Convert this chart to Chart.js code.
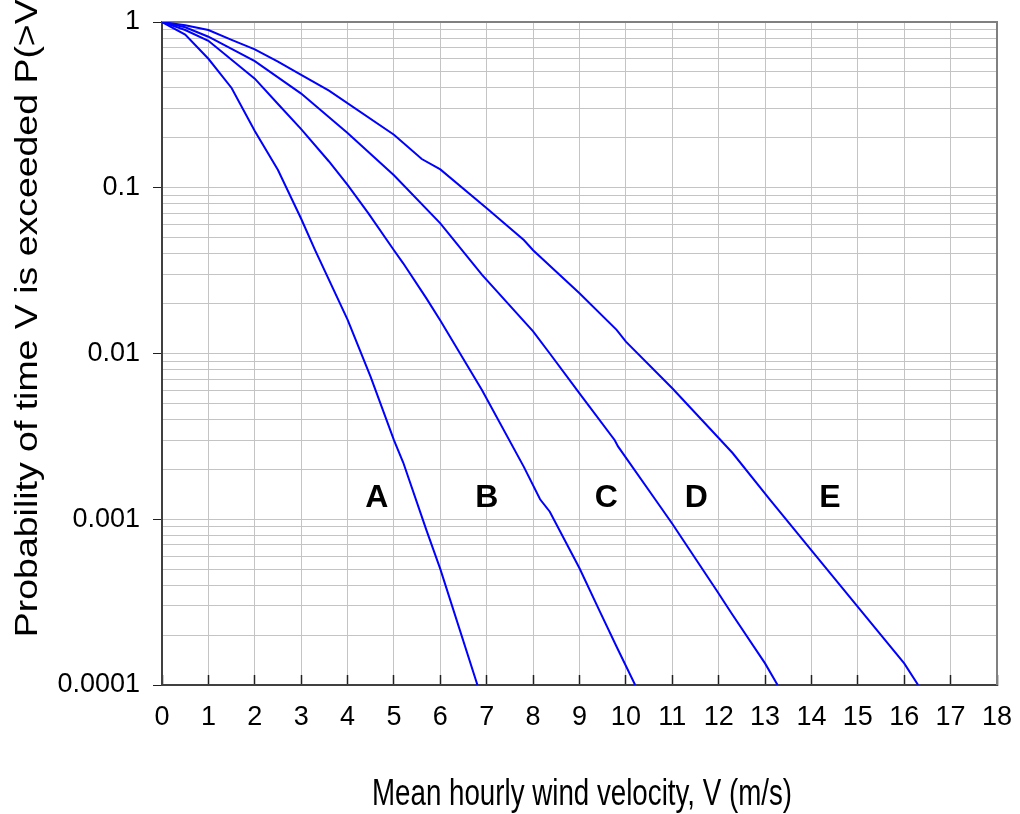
<!DOCTYPE html>
<html>
<head>
<meta charset="utf-8">
<script src="https://cdn.jsdelivr.net/npm/chart.js@4/dist/chart.umd.min.js"></script>
<style>
  body { margin: 0; background: #fff; }
  canvas { display: block; }
</style>
</head>
<body>
<canvas id="windChart" width="1020" height="814"></canvas>
<script>
//// values (V in m/s, P = probability V is exceeded)

let speedA = [0, 0.5, 1, 1.5, 2, 2.5, 3, 3.3, 4, 4.5, 5, 5.2, 5.7, 6, 6.8];
let probA = [1, 0.84, 0.6, 0.4, 0.22, 0.128, 0.065, 0.042, 0.016, 0.0072, 0.003, 0.0022, 0.00086, 0.0005, 0.0001];

let speedB = [0, 0.5, 1, 2, 2.5, 3, 3.6, 4, 4.45, 5, 5.2, 5.7, 6, 6.9, 7.8, 8.15, 8.36, 9, 9.44, 9.8, 10.2];
let probB = [1, 0.895, 0.77, 0.455, 0.32, 0.226, 0.144, 0.104, 0.07, 0.042, 0.035, 0.0215, 0.0158, 0.006, 0.00207, 0.00132, 0.00111, 0.000506, 0.000277, 0.00017, 0.0001];

let speedC = [0, 0.5, 1, 2, 3, 4, 5, 6, 6.9, 8, 8.36, 9, 9.76, 9.83, 10.63, 11, 11.95, 12.28, 13, 13.27];
let probC = [1, 0.93, 0.815, 0.58, 0.37, 0.214, 0.119, 0.061, 0.0298, 0.0136, 0.01, 0.00575, 0.003, 0.00275, 0.00132, 0.00094, 0.000374, 0.00027, 0.000135, 0.0001];

let speedD = [0, 0.5, 1, 1.5, 2, 2.5, 3, 3.6, 5, 5.6, 6, 7, 7.8, 8, 9, 9.8, 10, 11, 12, 12.3, 13.1, 14, 15, 16, 16.3];
let probD = [1, 0.955, 0.895, 0.78, 0.684, 0.577, 0.479, 0.385, 0.209, 0.149, 0.129, 0.0752, 0.0484, 0.042, 0.0231, 0.0139, 0.0118, 0.00617, 0.00309, 0.00251, 0.00132, 0.00065, 0.000296, 0.000135, 0.0001];

let regionLetters = ['A', 'B', 'C', 'D', 'E'];
let letterSpeed = [4.63, 7.0, 9.58, 11.52, 14.4];
let letterProb = [0.00134, 0.00134, 0.00134, 0.00134, 0.00134];

let yTickValues = [0.0001, 0.001, 0.01, 0.1, 1];
let yTickLabels = ['0.0001', '0.001', '0.01', '0.1', '1'];

let xTitle = 'Mean hourly wind velocity, V (m/s)';
let yTitle = 'Probability of time V is exceeded P(>V)';

/// helpers

function toPoints(xs, ys) {
    return xs.map((v, i) => ({ x: v, y: ys[i] }));
}

function decadeIndex(v) {
    for (let i = 0; i < yTickValues.length; i++) {
        if (Math.abs(v - yTickValues[i]) / yTickValues[i] < 1e-6) {
            return i;
        }
    }
    return -1;
}

// grid at 1..9 of every decade
let yGridValues = [];
for (let i = 0; i < yTickValues.length - 1; i++) {
    for (let m = 1; m < 10; m++) {
        yGridValues.push(parseFloat((yTickValues[i] * m).toPrecision(6)));
    }
}
yGridValues.push(yTickValues[yTickValues.length - 1]);

function makeCurve(xs, ys) {
    return {
        data: toPoints(xs, ys),
        borderColor: '#0000ff',
        borderWidth: 2,
        pointRadius: 0,
        tension: 0,
        fill: false
    };
}

//// extra drawing: frame, letters, stretched axis titles

let extrasPlugin = {
    id: 'extras',
    beforeDatasetsDraw(chart) {
        let a = chart.chartArea;
        let ctx = chart.ctx;
        ctx.save();
        ctx.strokeStyle = '#808080';
        ctx.lineWidth = 2;
        ctx.beginPath();
        ctx.moveTo(a.left, a.top);
        ctx.lineTo(a.right, a.top);
        ctx.lineTo(a.right, a.bottom);
        ctx.stroke();
        ctx.restore();
    },
    afterDraw(chart) {
        let ctx = chart.ctx;
        let xs = chart.scales.x;
        let ys = chart.scales.y;
        ctx.save();
        ctx.fillStyle = '#000';
        ctx.textAlign = 'center';
        ctx.textBaseline = 'middle';
        ctx.font = 'bold 32px "Liberation Sans", Arial, sans-serif';
        for (let i = 0; i < regionLetters.length; i++) {
            ctx.fillText(regionLetters[i], xs.getPixelForValue(letterSpeed[i]), ys.getPixelForValue(letterProb[i]));
        }

        // x title, narrow and tall like the original
        ctx.save();
        ctx.translate(582, 795);
        ctx.scale(0.77, 1);
        ctx.font = '36px "Liberation Sans", Arial, sans-serif';
        ctx.fillText(xTitle, 0, 0);
        ctx.restore();

        // y title, runs off the top edge like the original
        ctx.save();
        ctx.translate(28, 312);
        ctx.rotate(-Math.PI / 2);
        ctx.scale(1.17, 1);
        ctx.font = '32px "Liberation Sans", Arial, sans-serif';
        ctx.fillText(yTitle, 0, 0);
        ctx.restore();

        ctx.restore();
    }
};

let ctx = document.getElementById('windChart').getContext('2d');
new Chart(ctx, {
    type: 'line',
    data: {
        datasets: [
            makeCurve(speedA, probA),
            makeCurve(speedB, probB),
            makeCurve(speedC, probC),
            makeCurve(speedD, probD)
        ]
    },
    options: {
        responsive: false,
        animation: false,
        devicePixelRatio: 1,
        layout: { padding: { top: 22, right: 23, left: 0, bottom: 0 } },
        plugins: {
            legend: { display: false },
            tooltip: { enabled: false }
        },
        scales: {
            x: {
                type: 'linear',
                min: 0,
                max: 18,
                afterFit: s => {
                    s.height = 129;
                    s.paddingLeft = 0;
                    s.paddingRight = 0;
                },
                ticks: {
                    stepSize: 1,
                    color: '#000',
                    padding: 26,
                    maxRotation: 0,
                    font: { family: '"Liberation Sans", Arial, sans-serif', size: 27 }
                },
                grid: {
                    color: '#c4c4c4',
                    lineWidth: 1,
                    tickLength: -10,
                    tickColor: '#202020',
                    tickWidth: 1.5
                },
                border: { color: '#404040', width: 2 }
            },
            y: {
                type: 'logarithmic',
                min: 0.0001,
                max: 1,
                afterFit: s => {
                    s.width = 162;
                    s.paddingTop = 0;
                    s.paddingBottom = 0;
                },
                afterBuildTicks: s => {
                    s.ticks = yGridValues.map(v => ({ value: v, major: decadeIndex(v) >= 0 }));
                },
                ticks: {
                    autoSkip: false,
                    color: '#000',
                    padding: 13,
                    font: { family: '"Liberation Sans", Arial, sans-serif', size: 27 },
                    callback: v => {
                        let k = decadeIndex(v);
                        return k >= 0 ? yTickLabels[k] : '';
                    }
                },
                grid: {
                    color: '#c4c4c4',
                    lineWidth: 1,
                    tickLength: 9,
                    tickColor: c => (c.tick && decadeIndex(c.tick.value) >= 0) ? '#202020' : 'rgba(0,0,0,0)'
                },
                border: { color: '#404040', width: 2 }
            }
        }
    },
    plugins: [extrasPlugin]
});
</script>
</body>
</html>
